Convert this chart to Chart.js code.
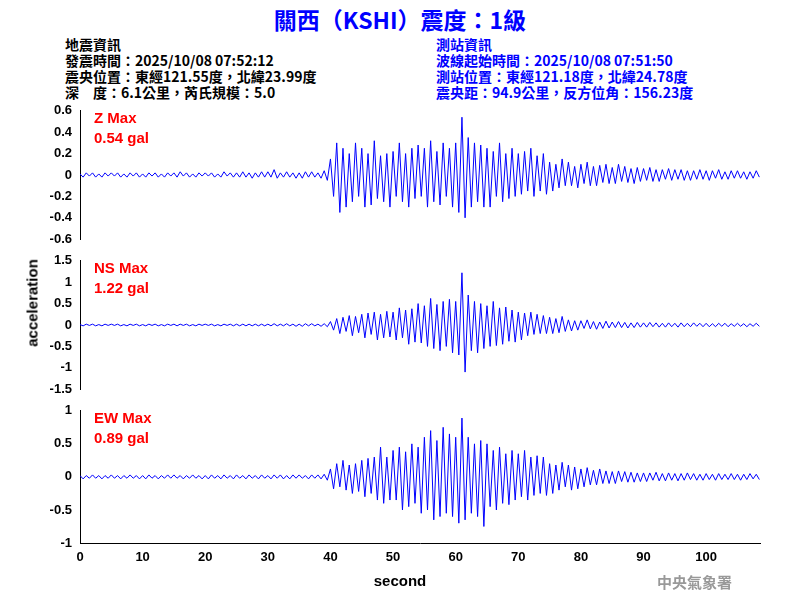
<!DOCTYPE html>
<html><head><meta charset="utf-8">
<script src="https://cdn.jsdelivr.net/npm/chart.js@4/dist/chart.umd.min.js"></script>
<style>
body{margin:0;width:800px;height:600px;background:#fff;position:relative;font-family:"Liberation Sans",Arial,sans-serif;overflow:hidden}
canvas{position:absolute;left:0}
.t{position:absolute;white-space:nowrap}
.info{font-family:"Noto Sans CJK TC","Liberation Sans",sans-serif;font-weight:bold;font-size:14px;line-height:16px}
.mx{position:absolute;color:#f00;font-weight:bold;font-size:15px;line-height:20px;left:94px}
</style></head><body>
<div class="t" style="left:0;width:800px;top:2px;text-align:center;color:#0000ff;font-size:23px;font-weight:bold;font-family:'Noto Sans CJK TC',sans-serif">關西（KSHI）震度：1級</div>
<div class="t info" style="left:65px;top:36px">地震資訊<br>發震時間：2025/10/08 07:52:12<br>震央位置：東經121.55度，北緯23.99度<br>深　度：6.1公里，芮氏規模：5.0</div>
<div class="t info" style="left:436px;top:36px;color:#0000ff">測站資訊<br>波線起始時間：2025/10/08 07:51:50<br>測站位置：東經121.18度，北緯24.78度<br>震央距：94.9公里，反方位角：156.23度</div>
<canvas id="c1" width="800" height="150" style="top:100px"></canvas>
<canvas id="c2" width="800" height="150" style="top:250px"></canvas>
<canvas id="c3" width="800" height="200" style="top:400px"></canvas>
<div class="mx" style="top:108px">Z Max<br>0.54 gal</div>
<div class="mx" style="top:258px">NS Max<br>1.22 gal</div>
<div class="mx" style="top:408px">EW Max<br>0.89 gal</div>
<div class="t" style="left:32px;top:303px;transform:translate(-50%,-50%) rotate(-90deg);font-weight:bold;font-size:15px">acceleration</div>
<div class="t" style="left:400px;top:580px;transform:translate(-50%,-50%);font-weight:bold;font-size:15px">second</div>
<div class="t" style="left:657px;top:571px;color:#999;font-weight:bold;font-size:15px;font-family:'Noto Sans CJK TC',serif">中央氣象署</div>
<script>
const dt = 0.5;
const xTicks = [0,10,20,30,40,50,60,70,80,90,100];
const zTicks = [-0.6,-0.4,-0.2,0,0.2,0.4,0.6];
const nsTicks = [-1.5,-1,-0.5,0,0.5,1,1.5];
const ewTicks = [-1,-0.5,0,0.5,1];
const zValues = [
0.01,-0.02,0.02,-0.01,0.02,-0.02,0.01,-0.02,0.02,-0.01,
0.02,-0.01,0.02,-0.02,0.01,-0.02,0.02,-0.01,0.02,-0.02,
0.01,-0.02,0.02,-0.01,0.02,-0.02,0.01,-0.02,0.02,-0.01,
0.02,-0.02,0.03,-0.01,0.02,-0.02,0.01,-0.02,0.02,-0.01,
0.02,-0.01,0.02,-0.02,0.01,-0.02,0.03,-0.01,0.02,-0.02,
0.02,-0.02,0.03,-0.02,0.02,-0.03,0.02,-0.02,0.03,-0.02,
0.03,-0.02,0.05,-0.03,0.02,-0.02,0.03,-0.02,0.02,-0.03,
0.02,-0.03,0.03,-0.02,0.03,-0.02,0.02,-0.03,0.04,-0.05,
0.15,-0.2,0.3,-0.35,0.25,-0.3,0.2,-0.25,0.3,-0.2,
0.25,-0.3,0.2,-0.28,0.32,-0.22,0.18,-0.25,0.2,-0.3,
0.22,-0.2,0.3,-0.25,0.2,-0.3,0.25,-0.22,0.28,-0.2,
0.25,-0.3,0.32,-0.25,0.22,-0.28,0.3,-0.2,0.25,-0.3,
0.3,-0.35,0.54,-0.4,0.35,-0.3,0.3,-0.25,0.28,-0.3,
0.25,-0.3,0.22,-0.2,0.3,-0.25,0.2,-0.22,0.25,-0.2,
0.2,-0.18,0.22,-0.15,0.25,-0.2,0.18,-0.15,0.2,-0.18,
0.12,-0.15,0.1,-0.12,0.15,-0.1,0.12,-0.1,0.08,-0.12,
0.1,-0.08,0.12,-0.1,0.08,-0.1,0.09,-0.07,0.1,-0.08,
0.07,-0.08,0.1,-0.06,0.08,-0.07,0.06,-0.08,0.07,-0.06,
0.06,-0.05,0.07,-0.06,0.05,-0.06,0.05,-0.04,0.06,-0.05,
0.05,-0.04,0.05,-0.05,0.04,-0.05,0.04,-0.04,0.05,-0.04,
0.04,-0.05,0.04,-0.03,0.05,-0.04,0.03,-0.04,0.04,-0.03,
0.04,-0.03,0.03,-0.04,0.03,-0.03,0.04,-0.02];
const nsValues = [
0.01,-0.02,0.02,-0.01,0.02,-0.02,0.01,-0.02,0.02,-0.01,
0.02,-0.01,0.02,-0.02,0.01,-0.02,0.02,-0.01,0.02,-0.02,
0.01,-0.02,0.02,-0.01,0.02,-0.02,0.01,-0.02,0.02,-0.01,
0.02,-0.02,0.02,-0.01,0.02,-0.02,0.01,-0.02,0.02,-0.01,
0.02,-0.01,0.02,-0.02,0.01,-0.02,0.02,-0.01,0.02,-0.02,
0.02,-0.02,0.02,-0.02,0.02,-0.02,0.02,-0.02,0.02,-0.02,
0.02,-0.02,0.03,-0.02,0.02,-0.02,0.03,-0.02,0.02,-0.03,
0.02,-0.03,0.03,-0.02,0.03,-0.02,0.02,-0.03,0.03,-0.04,
0.08,-0.12,0.15,-0.2,0.18,-0.15,0.22,-0.25,0.2,-0.18,
0.25,-0.3,0.28,-0.22,0.3,-0.35,0.25,-0.3,0.32,-0.28,
0.3,-0.35,0.4,-0.3,0.35,-0.45,0.38,-0.4,0.5,-0.42,
0.45,-0.5,0.62,-0.55,0.48,-0.6,0.55,-0.5,0.6,-0.65,
0.55,-0.7,1.22,-1.1,0.7,-0.6,0.55,-0.65,0.5,-0.55,
0.45,-0.5,0.55,-0.48,0.4,-0.45,0.42,-0.38,0.35,-0.4,
0.3,-0.35,0.28,-0.25,0.3,-0.22,0.25,-0.2,0.22,-0.2,
0.18,-0.2,0.15,-0.18,0.2,-0.15,0.12,-0.14,0.1,-0.12,
0.1,-0.08,0.12,-0.09,0.08,-0.1,0.07,-0.08,0.09,-0.07,
0.07,-0.06,0.08,-0.06,0.06,-0.07,0.05,-0.06,0.06,-0.05,
0.05,-0.05,0.06,-0.04,0.05,-0.05,0.04,-0.05,0.05,-0.04,
0.04,-0.05,0.05,-0.04,0.04,-0.04,0.05,-0.03,0.04,-0.04,
0.04,-0.04,0.03,-0.04,0.04,-0.03,0.04,-0.04,0.03,-0.03,
0.04,-0.03,0.03,-0.04,0.03,-0.03,0.04,-0.03];
const ewValues = [
0.02,-0.03,0.02,-0.02,0.03,-0.02,0.02,-0.03,0.02,-0.02,
0.03,-0.02,0.02,-0.03,0.02,-0.02,0.03,-0.02,0.02,-0.03,
0.02,-0.03,0.03,-0.02,0.02,-0.03,0.02,-0.02,0.03,-0.02,
0.03,-0.02,0.02,-0.03,0.02,-0.02,0.03,-0.02,0.02,-0.03,
0.02,-0.03,0.03,-0.02,0.02,-0.03,0.03,-0.02,0.02,-0.03,
0.03,-0.02,0.02,-0.03,0.03,-0.02,0.02,-0.03,0.03,-0.02,
0.02,-0.03,0.03,-0.02,0.03,-0.03,0.02,-0.03,0.03,-0.02,
0.03,-0.02,0.02,-0.03,0.03,-0.02,0.03,-0.03,0.04,-0.05,
0.12,-0.18,0.2,-0.15,0.25,-0.2,0.18,-0.25,0.2,-0.22,
0.25,-0.3,0.28,-0.25,0.3,-0.35,0.45,-0.4,0.3,-0.35,
0.4,-0.35,0.45,-0.5,0.38,-0.45,0.5,-0.4,0.45,-0.55,
0.6,-0.5,0.7,-0.65,0.55,-0.6,0.75,-0.55,0.65,-0.6,
0.6,-0.7,0.89,-0.65,0.6,-0.55,0.5,-0.6,0.55,-0.75,
0.5,-0.45,0.4,-0.5,0.45,-0.4,0.35,-0.42,0.4,-0.35,
0.35,-0.3,0.4,-0.35,0.3,-0.28,0.32,-0.25,0.3,-0.28,
0.2,-0.25,0.18,-0.2,0.22,-0.15,0.18,-0.2,0.15,-0.18,
0.12,-0.15,0.14,-0.12,0.1,-0.12,0.12,-0.1,0.09,-0.1,
0.08,-0.1,0.09,-0.07,0.08,-0.08,0.07,-0.08,0.06,-0.07,
0.06,-0.07,0.06,-0.05,0.07,-0.06,0.05,-0.06,0.06,-0.05,
0.05,-0.06,0.05,-0.05,0.06,-0.04,0.05,-0.05,0.04,-0.05,
0.05,-0.04,0.04,-0.05,0.05,-0.04,0.04,-0.04,0.05,-0.04,
0.04,-0.05,0.04,-0.04,0.05,-0.03,0.04,-0.04];

const font = {family:"'Liberation Sans',Arial,sans-serif", size:13, weight:'bold'};
function make(id, vals, ticks, showX, bottomPad){
  const data = vals.map((v,i)=>({x:i*dt, y:v}));
  new Chart(document.getElementById(id), {
    type:'line',
    data:{datasets:[{data, borderColor:'#0000ff', borderWidth:1, pointRadius:0, tension:0}]},
    options:{
      responsive:false, animation:false,
      layout:{padding:{left:0,right:40,top:8,bottom:bottomPad}},
      plugins:{legend:{display:false},tooltip:{enabled:false}},
      scales:{
        x:{type:'linear', min:0, max:108.6, display:showX,
           afterBuildTicks:s=>{s.ticks=xTicks.map(v=>({value:v}));},
           afterFit:s=>{ if(showX) s.height=57; },
           grid:{display:false, drawTicks:true, tickLength:5, color:'#000'},
           border:{color:'#000'},
           ticks:{color:'#000', font, padding:2, maxRotation:0, callback:v=>String(v)}},
        y:{min:ticks[0], max:ticks[ticks.length-1],
           afterBuildTicks:s=>{s.ticks=ticks.map(v=>({value:v}));},
           afterFit:s=>{s.width=80;},
           grid:{display:false, drawTicks:true, tickLength:5, color:'#000'},
           border:{color:'#000'},
           ticks:{color:'#000', font, padding:3, autoSkip:false, callback:v=>String(v)}}
      }
    }
  });
}
make('c1', zValues, zTicks, false, 7);
make('c2', nsValues, nsTicks, false, 8);
make('c3', ewValues, ewTicks, true, 0);
</script>
</body></html>
